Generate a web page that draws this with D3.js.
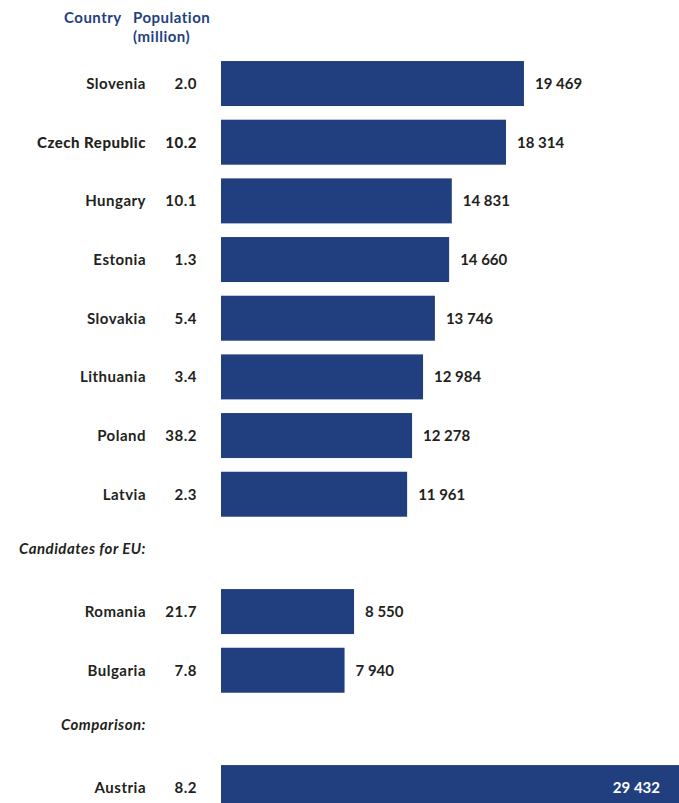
<!DOCTYPE html>
<html>
<head>
<meta charset="utf-8">
<script src="https://cdn.jsdelivr.net/npm/d3@7"></script>
<style>
  body { margin: 0; background: #fff; }
  svg text { font-family: Lato, "Open Sans", sans-serif; font-weight: 700; font-size: 15px; fill: #231f20; letter-spacing: 0.5px; }
  svg text.val { letter-spacing: 0; }
</style>
</head>
<body>
<div id="chart"></div>
<script>
// GDP per capita (PPS) by country, with population in millions
var countries = ["Slovenia", "Czech Republic", "Hungary", "Estonia", "Slovakia", "Lithuania", "Poland", "Latvia",
                 "Romania", "Bulgaria", "Austria"];
var population = [2.0, 10.2, 10.1, 1.3, 5.4, 3.4, 38.2, 2.3, 21.7, 7.8, 8.2];
var gdpValues = [19469, 18314, 14831, 14660, 13746, 12984, 12278, 11961, 8550, 7940, 29432];
var groupLabels = ["Candidates for EU:", "Comparison:"];
// row slots: group headings sit in their own slot before Romania and Austria
var slots = ["Slovenia", "Czech Republic", "Hungary", "Estonia", "Slovakia", "Lithuania", "Poland", "Latvia",
             "Candidates for EU:", "Romania", "Bulgaria", "Comparison:", "Austria"];

var width = 679, height = 803;
var barLeft = 221;
var step = 58.67;

var svg = d3.select("#chart").append("svg")
  .attr("width", width)
  .attr("height", height);

var x = d3.scaleLinear()
  .domain([0, d3.max(gdpValues)])
  .range([barLeft, width]);

var y = d3.scaleBand()
  .domain(slots)
  .range([54.2, 54.2 + slots.length * step])
  .paddingInner(0.233)
  .paddingOuter(0.1165);

var rows = countries.map(function(c, i) {
  return { name: c, pop: population[i], value: gdpValues[i] };
});

var fmt = function(v) { return d3.format(",")(v).replace(/,/g, " "); };

// header
var header = svg.append("g");
header.append("text").attr("x", 64).attr("y", 23).style("fill", "#243f7f").text("Country");
header.append("text").attr("x", 133).attr("y", 23).style("fill", "#243f7f").text("Population");
header.append("text").attr("x", 133).attr("y", 42).style("fill", "#243f7f").text("(million)");

// bars
svg.selectAll(".bar")
  .data(rows).enter()
  .append("rect")
  .attr("class", "bar")
  .attr("x", x(0))
  .attr("y", function(d) { return y(d.name); })
  .attr("width", function(d) { return x(d.value) - x(0); })
  .attr("height", y.bandwidth())
  .attr("fill", "#213f7e");

// country names
svg.selectAll(".cname")
  .data(rows).enter()
  .append("text")
  .attr("class", "cname")
  .attr("x", 146)
  .attr("y", function(d) { return y(d.name) + y.bandwidth() / 2; })
  .attr("dy", "0.36em")
  .attr("text-anchor", "end")
  .style("font-weight", function(d) { return d.name === "Czech Republic" ? 900 : 700; })
  .text(function(d) { return d.name; });

// population
svg.selectAll(".pop")
  .data(rows).enter()
  .append("text")
  .attr("class", "pop")
  .attr("x", 197)
  .attr("y", function(d) { return y(d.name) + y.bandwidth() / 2; })
  .attr("dy", "0.36em")
  .attr("text-anchor", "end")
  .style("font-weight", function(d) { return d.name === "Czech Republic" ? 900 : 700; })
  .text(function(d) { return d.pop.toFixed(1); });

// values
svg.selectAll(".val")
  .data(rows).enter()
  .append("text")
  .attr("class", "val")
  .attr("x", function(d) { return x(d.value) > width - 60 ? x(d.value) - 19 : x(d.value) + 11; })
  .attr("y", function(d) { return y(d.name) + y.bandwidth() / 2; })
  .attr("dy", "0.36em")
  .attr("text-anchor", function(d) { return x(d.value) > width - 60 ? "end" : "start"; })
  .style("fill", function(d) { return x(d.value) > width - 60 ? "#fff" : "#231f20"; })
  .text(function(d) { return fmt(d.value); });

// group headings
svg.selectAll(".grp")
  .data(groupLabels).enter()
  .append("text")
  .attr("class", "grp")
  .attr("x", 146)
  .attr("y", function(d) { return y(d) + y.bandwidth() / 2 - 4; })
  .attr("dy", "0.36em")
  .attr("text-anchor", "end")
  .style("font-style", "italic")
  .text(function(d) { return d; });
</script>
</body>
</html>
